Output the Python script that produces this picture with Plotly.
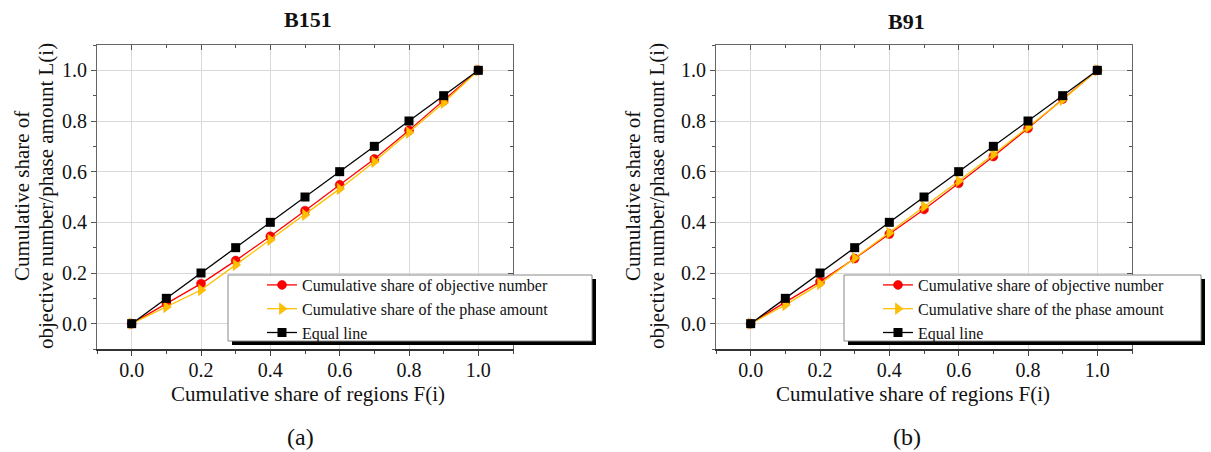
import plotly.graph_objects as go

W, H = 1211, 452

# ---------------- data ----------------
F = [0.0, 0.1, 0.2, 0.3, 0.4, 0.5, 0.6, 0.7, 0.8, 0.9, 1.0]

b151_objective = [0.0, 0.080, 0.158, 0.249, 0.345, 0.446, 0.548, 0.650, 0.763, 0.880, 1.0]
b151_phase     = [0.0, 0.066, 0.133, 0.232, 0.331, 0.430, 0.532, 0.639, 0.755, 0.872, 1.0]
b151_equal     = [0.0, 0.1, 0.2, 0.3, 0.4, 0.5, 0.6, 0.7, 0.8, 0.9, 1.0]

b91_objective = [0.0, 0.085, 0.166, 0.257, 0.354, 0.451, 0.554, 0.660, 0.771, 0.887, 1.0]
b91_phase     = [0.0, 0.074, 0.157, 0.259, 0.358, 0.462, 0.563, 0.668, 0.775, 0.884, 1.0]
b91_equal     = [0.0, 0.1, 0.2, 0.3, 0.4, 0.5, 0.6, 0.7, 0.8, 0.9, 1.0]

series_names = ["Cumulative share of objective number",
                "Cumulative share of the phase amount",
                "Equal line"]
panel_titles = ["B151", "B91"]
panel_labels = ["(a)", "(b)"]
x_title = "Cumulative share of regions F(i)"
y_title_1 = "Cumulative share of"
y_title_2 = "objective number/phase amount L(i)"
tick_vals = [0, 0.2, 0.4, 0.6, 0.8, 1.0]
tick_text = ["0.0", "0.2", "0.4", "0.6", "0.8", "1.0"]

FONT = "Liberation Serif"
RED = "#ff0000"
YEL = "#ffc000"
BLK = "#000000"

def px(x):
    return x / W

def py(y):
    return 1 - y / H

# plot areas in pixels
panels = [
    dict(x0=97, x1=513, tx=308, ty=20, xt=308, lab=300, yt1=22, yt2=46,
         leg=(228, 275, 592, 341), legx=262),
    dict(x0=716, x1=1132, tx=906, ty=22, xt=913, lab=907, yt1=633, yt2=657,
         leg=(844, 275, 1201, 341), legx=878),
]
Y0, Y1 = 45, 349

fig = go.Figure()

data_sets = [
    (b151_objective, b151_phase, b151_equal),
    (b91_objective, b91_phase, b91_equal),
]

for i, (obj, ph, eq) in enumerate(data_sets):
    xa = "x" if i == 0 else "x2"
    ya = "y" if i == 0 else "y2"
    lg = "legend" if i == 0 else "legend2"
    fig.add_trace(go.Scatter(x=F, y=obj, name=series_names[0], mode="lines+markers",
                             line=dict(color=RED, width=1.3),
                             marker=dict(symbol="circle", size=9, color=RED,
                                         line=dict(color="#d00000", width=0.5)),
                             xaxis=xa, yaxis=ya, legend=lg))
    fig.add_trace(go.Scatter(x=F, y=ph, name=series_names[1], mode="lines+markers",
                             line=dict(color=YEL, width=1.3),
                             marker=dict(symbol="triangle-right", size=10, color=YEL,
                                         line=dict(color="#f0a800", width=0.5)),
                             xaxis=xa, yaxis=ya, legend=lg))
    fig.add_trace(go.Scatter(x=F, y=eq, name=series_names[2], mode="lines+markers",
                             line=dict(color=BLK, width=1.3),
                             marker=dict(symbol="square", size=9, color=BLK),
                             xaxis=xa, yaxis=ya, legend=lg))

tickfont = dict(family=FONT, size=20, color="#111")

def main_x(dom, anchor):
    return dict(domain=dom, anchor=anchor, range=[-0.1, 1.1], tickmode="array",
                tickvals=tick_vals, ticktext=tick_text,
                ticks="outside", ticklen=5, tickwidth=1, tickcolor="#444",
                minor=dict(dtick=0.1, tick0=0, ticks="outside", ticklen=3,
                           tickcolor="#444", showgrid=False),
                showgrid=True, gridcolor="#d9d9d9", gridwidth=1,
                showline=True, linecolor="#333", linewidth=1.5,
                zeroline=False, tickfont=tickfont, ticklabelstandoff=-3)

def main_y(dom, anchor):
    return dict(domain=dom, anchor=anchor, range=[-0.1, 1.1], tickmode="array",
                tickvals=tick_vals, ticktext=tick_text,
                ticks="outside", ticklen=5, tickwidth=1, tickcolor="#555",
                minor=dict(dtick=0.1, tick0=0, ticks="outside", ticklen=3,
                           tickcolor="#555", showgrid=False),
                showgrid=True, gridcolor="#d9d9d9", gridwidth=1,
                showline=True, linecolor="#666", linewidth=1.2,
                zeroline=False, tickfont=tickfont)

ydom = [py(Y1), py(Y0)]
p0, p1 = panels
fig.update_layout(
    xaxis=main_x([px(p0["x0"]), px(p0["x1"])], "y"),
    yaxis=main_y(ydom, "x"),
    xaxis2=main_x([px(p1["x0"]), px(p1["x1"])], "y2"),
    yaxis2=main_y(ydom, "x2"),
)

# top / right mirrored axes with inward ticks
def top_x(over, anchor):
    return dict(overlaying=over, anchor=anchor, side="top", range=[-0.1, 1.1],
                dtick=0.2, tick0=0, ticks="inside", ticklen=5, tickcolor="#555",
                minor=dict(dtick=0.1, tick0=0, ticks="inside", ticklen=3, tickcolor="#555"),
                showticklabels=False, showgrid=False, zeroline=False,
                showline=True, linecolor="#666", linewidth=1.2)

def right_y(over, anchor):
    return dict(overlaying=over, anchor=anchor, side="right", range=[-0.1, 1.1],
                dtick=0.2, tick0=0, ticks="inside", ticklen=5, tickcolor="#555",
                minor=dict(dtick=0.1, tick0=0, ticks="inside", ticklen=3, tickcolor="#555"),
                showticklabels=False, showgrid=False, zeroline=False,
                showline=True, linecolor="#666", linewidth=1.2)

fig.update_layout(
    xaxis3=top_x("x", "y"), yaxis3=right_y("y", "x"),
    xaxis4=top_x("x2", "y2"), yaxis4=right_y("y2", "x2"),
)
# invisible traces so overlay axes render
for xa, ya in [("x3", "y3"), ("x4", "y4")]:
    fig.add_trace(go.Scatter(x=[0.5], y=[0.5], mode="markers", opacity=0,
                             showlegend=False, hoverinfo="skip", xaxis=xa, yaxis=ya))

annotations = []
shapes = []
for k, p in enumerate(panels):
    annotations.append(dict(text="<b>%s</b>" % panel_titles[k], x=px(p["tx"]), y=py(p["ty"]),
                            xref="paper", yref="paper", showarrow=False,
                            font=dict(family=FONT, size=22, color="#111"),
                            xanchor="center", yanchor="middle"))
    annotations.append(dict(text=x_title, x=px(p["xt"]), y=py(394),
                            xref="paper", yref="paper", showarrow=False,
                            font=dict(family=FONT, size=21, color="#111"),
                            xanchor="center", yanchor="middle"))
    annotations.append(dict(text=panel_labels[k], x=px(p["lab"]), y=py(437),
                            xref="paper", yref="paper", showarrow=False,
                            font=dict(family=FONT, size=24, color="#111"),
                            xanchor="center", yanchor="middle"))
    annotations.append(dict(text=y_title_1, x=px(p["yt1"]), y=py(196), textangle=-90,
                            xref="paper", yref="paper", showarrow=False,
                            font=dict(family=FONT, size=21, color="#111"),
                            xanchor="center", yanchor="middle"))
    annotations.append(dict(text=y_title_2, x=px(p["yt2"]), y=py(196), textangle=-90,
                            xref="paper", yref="paper", showarrow=False,
                            font=dict(family=FONT, size=21, color="#111"),
                            xanchor="center", yanchor="middle"))
    lx0, ly0, lx1, ly1 = p["leg"]
    shapes.append(dict(type="rect", xref="paper", yref="paper", layer="above",
                       x0=px(lx0 + 4), x1=px(lx1 + 4), y0=py(ly1 + 4), y1=py(ly0 + 4),
                       fillcolor="#000", line=dict(width=0)))
    shapes.append(dict(type="rect", xref="paper", yref="paper", layer="above",
                       x0=px(lx0), x1=px(lx1), y0=py(ly1), y1=py(ly0),
                       fillcolor="#fff", line=dict(color="#888", width=1)))

legfont = dict(family=FONT, size=16, color="#111")
fig.update_layout(
    width=W, height=H,
    font=dict(family=FONT, color="#111"),
    margin=dict(l=0, r=0, t=0, b=0),
    paper_bgcolor="white", plot_bgcolor="white",
    annotations=annotations, shapes=shapes,
    legend=dict(x=px(p0["legx"]), y=py(268), xanchor="left", yanchor="top",
                bgcolor="rgba(0,0,0,0)", borderwidth=0, font=legfont,
                tracegroupgap=0, itemsizing="trace"),
    legend2=dict(x=px(p1["legx"]), y=py(268), xanchor="left", yanchor="top",
                 bgcolor="rgba(0,0,0,0)", borderwidth=0, font=legfont,
                 tracegroupgap=0, itemsizing="trace"),
)

fig.write_html("out.html")
